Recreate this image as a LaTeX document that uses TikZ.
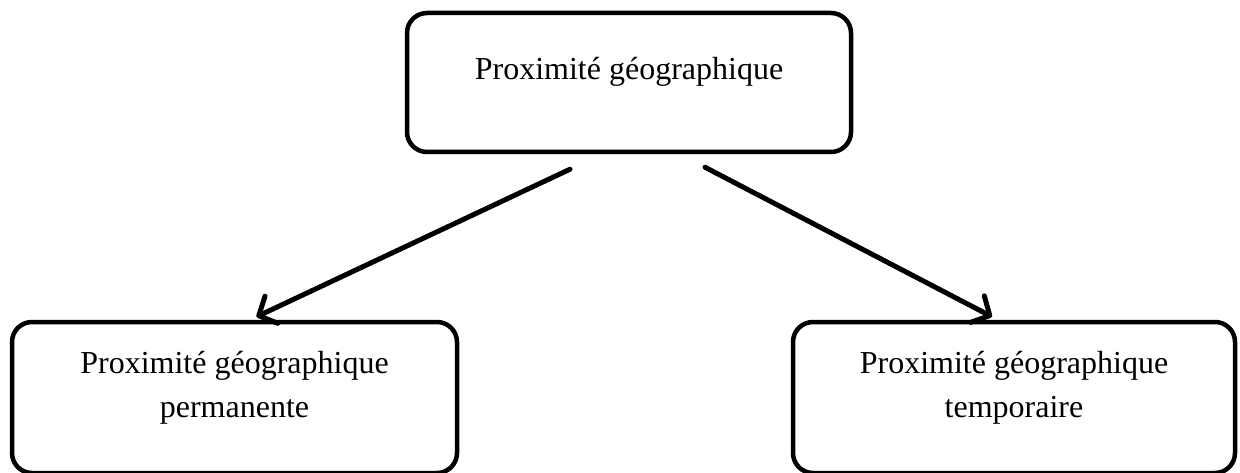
\documentclass[tikz,border=0pt]{standalone}
\usepackage{fontspec}
\setmainfont{Liberation Serif}
\usetikzlibrary{arrows.meta}
\begin{document}
\begin{tikzpicture}[x=1pt,y=1pt,
  box/.style={draw=black, line width=4.5pt, rounded corners=20pt, fill=white, inner sep=0pt},
  lbl/.style={font=\fontsize{32}{44}\selectfont, align=center, inner sep=0pt},
  conn/.style={draw=black, line width=5pt, line cap=round,
    -{Straight Barb[length=14pt, width=30pt, line width=5pt, round]}}]
\useasboundingbox (0,0) rectangle (1240,472);
\fill[white] (0,0) rectangle (1240,472);
% boxes
\node[box, minimum width=444pt, minimum height=139pt] (top) at (629,389.5) {};
\node[box, minimum width=445pt, minimum height=151pt] (left) at (234.5,-1.5+76) {};
\node[box, minimum width=442pt, minimum height=151pt] (right) at (1014,-1.5+76) {};
% texts
\node[lbl, anchor=base] (ttop) at (629,392) {Proximité géographique};
\node[lbl, anchor=base] (tleft1) at (234.5,99) {Proximité géographique};
\node[lbl, anchor=base] (tleft2) at (234.5,55) {permanente};
\node[lbl, anchor=base] (tright1) at (1014,99) {Proximité géographique};
\node[lbl, anchor=base] (tright2) at (1014,55) {temporaire};
% arrow starts
\coordinate (s1) at ([xshift=-59pt, yshift=-15pt]top.south);
\coordinate (s2) at ([xshift=76pt, yshift=-13pt]top.south);
\draw[conn] (s1) -- ([xshift=22pt, yshift=3pt]left.north);
\draw[conn] (s2) -- ([xshift=-22pt, yshift=3pt]right.north);
\end{tikzpicture}
\end{document}
